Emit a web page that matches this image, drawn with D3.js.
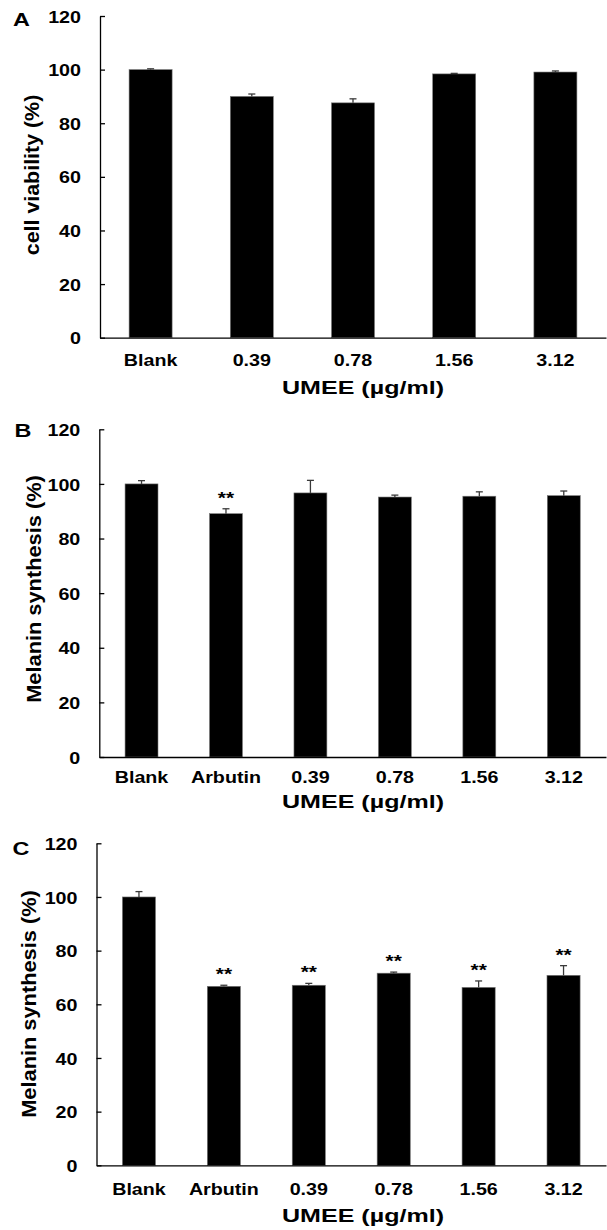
<!DOCTYPE html>
<html>
<head>
<meta charset="utf-8">
<script src="https://cdn.jsdelivr.net/npm/d3@7"></script>
<style>
    body { margin: 0; background: #fff; }
    text { font-family: "Liberation Sans", Arial, sans-serif; font-weight: bold; fill: #000; }
</style>
</head>
<body>
<div class="container"></div>
<script>
// values
const yTicks = [0, 20, 40, 60, 80, 100, 120];

const catsA = ["Blank", "0.39", "0.78", "1.56", "3.12"];
const viability = [100, 90, 87.6, 98.4, 99.1];
const viabilityErr = [0.3, 0.9, 1.5, 0.2, 0.4];

const catsBC = ["Blank", "Arbutin", "0.39", "0.78", "1.56", "3.12"];
const melaninB = [100, 89.1, 96.7, 95.2, 95.5, 95.7];
const melaninBErr = [1.2, 1.8, 4.6, 0.7, 1.6, 1.7];
const sigB = ["", "**", "", "", "", ""];

const melaninC = [100, 66.7, 67.1, 71.6, 66.3, 70.8];
const melaninCErr = [2.0, 0.4, 0.7, 0.4, 2.4, 3.6];
const sigC = ["", "**", "**", "**", "**", "**"];

const W = 607;
const H = 1230;
const sx = 1.23; // the figure's lettering is wide

const svg = d3
    .select(".container")
    .append("svg")
    .attr("width", W)
    .attr("height", H);

const drawPanel = (p) => {
    const g = svg.append("g");
    const rows = p.cats.map((c, i) => ({
        cat: c,
        val: p.values[i],
        err: p.errors[i],
        sig: p.sig ? p.sig[i] : "",
    }));

    const x = d3
        .scaleBand()
        .domain(p.cats)
        .range([p.left, p.right])
        .paddingInner(p.pad)
        .paddingOuter(p.pad / 2);

    const y = d3.scaleLinear().domain([0, 120]).range([p.bottom, p.top]);

    // bars
    g.selectAll("rect")
        .data(rows)
        .enter()
        .append("rect")
        .attr("x", (d) => x(d.cat))
        .attr("y", (d) => y(d.val))
        .attr("width", x.bandwidth())
        .attr("height", (d) => y(0) - y(d.val))
        .attr("fill", "#000")
        .attr("stroke", "#777")
        .attr("stroke-width", 0.6);

    // upper error bars
    const eb = g.selectAll(".err").data(rows).enter().append("g").attr("class", "err");
    eb.append("line")
        .attr("x1", (d) => x(d.cat) + x.bandwidth() / 2)
        .attr("x2", (d) => x(d.cat) + x.bandwidth() / 2)
        .attr("y1", (d) => y(d.val))
        .attr("y2", (d) => y(d.val + d.err))
        .attr("stroke", "#3a3a3a")
        .attr("stroke-width", 1.3);
    eb.append("line")
        .attr("x1", (d) => x(d.cat) + x.bandwidth() / 2 - 3.5)
        .attr("x2", (d) => x(d.cat) + x.bandwidth() / 2 + 3.5)
        .attr("y1", (d) => y(d.val + d.err))
        .attr("y2", (d) => y(d.val + d.err))
        .attr("stroke", "#3a3a3a")
        .attr("stroke-width", 1.3);

    // significance marks
    g.selectAll(".sig")
        .data(rows.filter((d) => d.sig))
        .enter()
        .append("text")
        .attr("class", "sig")
        .attr("text-anchor", "middle")
        .attr("font-size", 17)
        .attr("transform", (d) =>
            `translate(${x(d.cat) + x.bandwidth() / 2}, ${y(d.val + d.err) - 5}) scale(${sx},1)`)
        .text((d) => d.sig);

    // axes
    const yAxis = d3.axisLeft(y).tickValues(yTicks).tickSizeInner(-5).tickSizeOuter(0);
    const ya = g.append("g").attr("transform", `translate(${p.left},0)`).call(yAxis);
    ya.select(".domain").attr("stroke", "#000").attr("stroke-width", 1.3);
    ya.selectAll(".tick line").attr("stroke", "#000").attr("stroke-width", 1.3);
    ya.selectAll(".tick text")
        .attr("font-size", 16)
        .attr("x", -19 / sx)
        .attr("dy", "0.38em")
        .attr("transform", `scale(${sx},1)`)
        .style("font-family", null);

    const xAxis = d3.axisBottom(x).tickSize(0).tickPadding(p.xPad);
    const xa = g.append("g").attr("transform", `translate(0,${p.bottom})`).call(xAxis);
    xa.select(".domain").attr("stroke", "#000").attr("stroke-width", 1.3);
    xa.selectAll(".tick text")
        .attr("font-size", 16)
        .attr("transform", `scale(${sx},1)`);
    svg.selectAll(".tick text").attr("font-family", null);

    // titles
    g.append("text")
        .attr("text-anchor", "middle")
        .attr("font-size", 19)
        .attr("transform", `translate(${p.titleX},${p.titleY}) scale(1.32,1)`)
        .text("UMEE (µg/ml)");

    g.append("text")
        .attr("text-anchor", "middle")
        .attr("font-size", 20)
        .attr("transform", `translate(${p.labelX},${p.labelY}) rotate(-90) scale(${p.labelS},1)`)
        .text(p.yLabel);

    g.append("text")
        .attr("font-size", 18)
        .attr("transform", `translate(${p.letterX},${p.letterY}) scale(1.3,1)`)
        .text(p.letter);
};

drawPanel({
    cats: catsA, values: viability, errors: viabilityErr,
    left: 100, right: 606, top: 16, bottom: 337.7, pad: 0.575, xPad: 17,
    titleX: 363, titleY: 394, yLabel: "cell viability (%)",
    labelX: 39, labelY: 175, labelS: 1.07, letter: "A", letterX: 13, letterY: 26,
});

drawPanel({
    cats: catsBC, values: melaninB, errors: melaninBErr, sig: sigB,
    left: 99.3, right: 606, top: 429.3, bottom: 757, pad: 0.61, xPad: 15,
    titleX: 363, titleY: 808, yLabel: "Melanin synthesis (%)",
    labelX: 41, labelY: 589, labelS: 1.09, letter: "B", letterX: 14.5, letterY: 437,
});

drawPanel({
    cats: catsBC, values: melaninC, errors: melaninCErr, sig: sigC,
    left: 96.5, right: 606, top: 843.3, bottom: 1165.3, pad: 0.61, xPad: 18,
    titleX: 363, titleY: 1222, yLabel: "Melanin synthesis (%)",
    labelX: 36, labelY: 1004, labelS: 1.09, letter: "C", letterX: 12.5, letterY: 855,
});
</script>
</body>
</html>
